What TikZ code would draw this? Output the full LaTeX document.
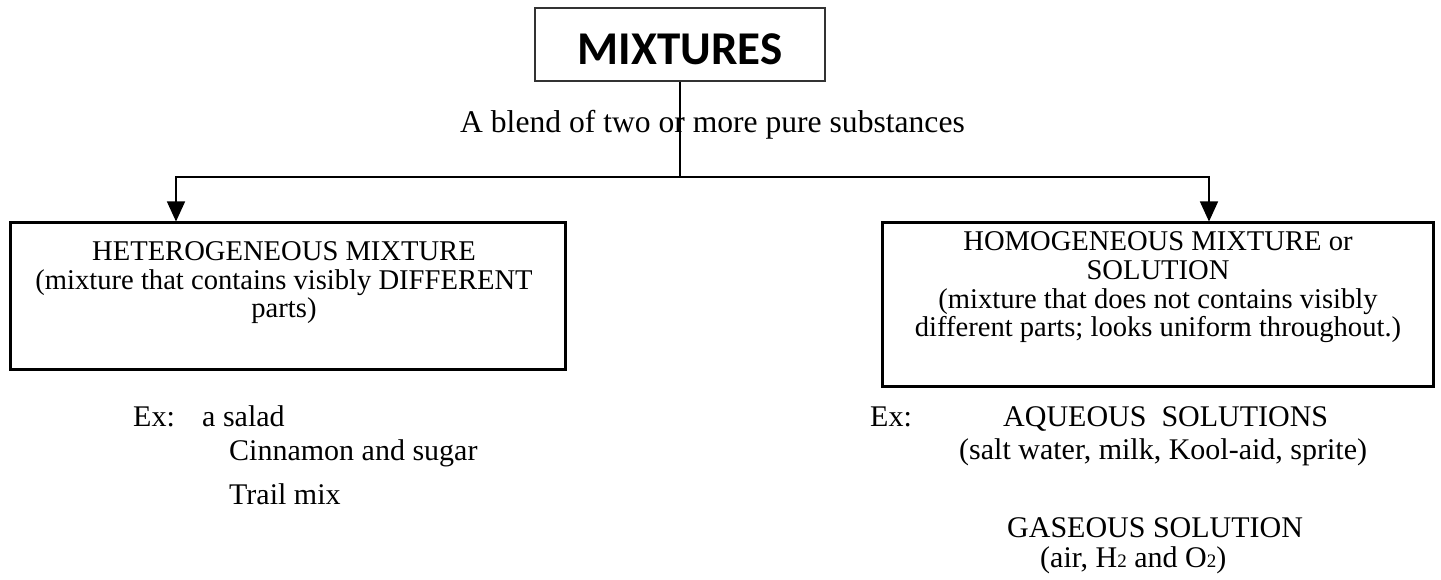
\documentclass[tikz,border=0pt]{standalone}
\usepackage{fontspec}
\setmainfont{Liberation Serif}
\newfontfamily\calibrifont{Carlito}
\usetikzlibrary{arrows.meta}

\begin{document}
\begin{tikzpicture}[x=1pt,y=-1pt]
\tikzset{titlebox/.style={draw=black!80, line width=1.3pt, inner sep=0pt, minimum width=290pt, minimum height=73pt},
  bigbox/.style={draw, line width=3pt, inner sep=0pt},
  boxtext/.style={font=\fontsize{28.6}{28.7}\selectfont, align=center, inner sep=0pt, anchor=north},
  extext/.style={font=\fontsize{30}{30}\selectfont, inner sep=0pt, anchor=base west},
  link/.style={line width=1.3pt},
  arrow/.style={link, -{Triangle[length=20pt, width=18pt]}}}
\useasboundingbox (0,0) rectangle (1441,580);
\node[titlebox] (mix) at (680,44.5) {};
\node[font=\calibrifont\bfseries\fontsize{47}{47}\selectfont, inner sep=0pt, anchor=base] (mixtitle) at (680,65) {MIXTURES};
\node[font=\fontsize{31.6}{31.6}\selectfont, inner sep=0pt, anchor=base west] (blend) at (460,133) {A blend of two or more pure substances};
\node[bigbox, minimum width=555pt, minimum height=146pt] (hetero) at (287.5,296) {};
\node[boxtext] (heterotext) at (284,241.3) {HETEROGENEOUS MIXTURE\\(mixture that contains visibly DIFFERENT\\parts)};
\node[bigbox, minimum width=551pt, minimum height=163pt] (homo) at (1157.5,304.5) {};
\node[boxtext] (homotext) at (1158,231.6) {HOMOGENEOUS MIXTURE or\\SOLUTION\\(mixture that does not contains visibly\\different parts; looks uniform throughout.)};
\coordinate (split) at (680,177);
\coordinate (lturn) at (176,177);
\coordinate (rturn) at (1209,177);
\draw[link] (mix.south) -- (split);
\draw[arrow] (split) -- (lturn) -- (lturn |- hetero.north);
\draw[arrow] (split) -- (rturn) -- (rturn |- homo.north);
\node[extext] (exleft) at (133,426) {Ex:};
\node[extext] (salad) at (202,426) {a salad};
\node[extext] (cinnamon) at (229,460) {Cinnamon and sugar};
\node[extext] (trail) at (229,504) {Trail mix};
\node[extext] (exright) at (870,426) {Ex:};
\node[extext] (aqueous) at (1003,426) {AQUEOUS\ \ SOLUTIONS};
\node[extext] (aqueousex) at (959,459) {(salt water, milk, Kool-aid, sprite)};
\node[extext] (gaseous) at (1007,537) {GASEOUS SOLUTION};
\node[extext] (gaseousex) at (1040,567) {(air, H{\fontsize{19}{19}\selectfont 2} and O{\fontsize{19}{19}\selectfont 2})};
\end{tikzpicture}
\end{document}
